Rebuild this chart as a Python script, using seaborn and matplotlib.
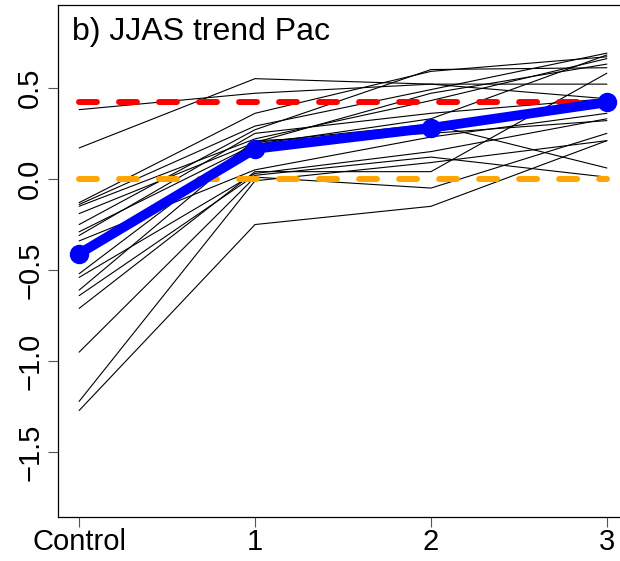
import numpy as np
import pandas as pd
import matplotlib
matplotlib.use('Agg')
import matplotlib.pyplot as plt
import seaborn as sns

# categorias del eje x
categories = ['Control', '1', '2', '3']

# miembros individuales
members = [
    [0.38, 0.47, 0.52, 0.44],
    [0.17, 0.55, 0.52, 0.52],
    [-0.13, 0.36, 0.59, 0.67],
    [-0.14, 0.29, 0.49, 0.69],
    [-0.15, 0.22, 0.43, 0.66],
    [-0.19, 0.20, 0.47, 0.63],
    [-0.25, 0.27, 0.60, 0.61],
    [-0.29, 0.19, 0.33, 0.68],
    [-0.31, 0.25, 0.36, 0.44],
    [-0.34, 0.05, 0.23, 0.36],
    [-0.52, 0.21, 0.25, 0.32],
    [-0.54, 0.03, 0.15, 0.33],
    [-0.61, 0.20, 0.30, 0.06],
    [-0.64, 0.02, 0.12, 0.01],
    [-0.71, 0.04, 0.04, 0.58],
    [-0.95, 0.01, -0.05, 0.25],
    [-1.22, -0.01, 0.09, 0.21],
    [-1.27, -0.25, -0.15, 0.21],
]

# media del ensemble (linea azul)
mean_values = [-0.41, 0.165, 0.28, 0.42]

# lineas de referencia
red_level = 0.42
orange_level = 0.0

# DataFrame en formato largo
rows = []
for m, vals in enumerate(members):
    for i, v in enumerate(vals):
        rows.append({'member': m, 'x': i, 'value': v})
df = pd.DataFrame(rows)
df_mean = pd.DataFrame({'x': range(len(categories)), 'value': mean_values})

sns.set_style('white')
plt.rcParams['font.family'] = ['Liberation Sans', 'DejaVu Sans']
plt.rcParams['text.color'] = 'black'
plt.rcParams['xtick.color'] = 'black'
plt.rcParams['ytick.color'] = 'black'

fig = plt.figure(figsize=(6.2, 5.61), dpi=100)
ax = fig.add_axes([58 / 620, 44 / 561, 570 / 620, 512 / 561])

sns.lineplot(data=df, x='x', y='value', units='member', estimator=None,
             color='black', linewidth=0.8, ax=ax, legend=False)

ax.plot([0, 3], [red_level, red_level], color='red', lw=4.3,
        linestyle=(0, (3.0, 3.7)), dash_capstyle='round', zorder=3)
ax.plot([0, 3], [orange_level, orange_level], color='orange', lw=4.3,
        linestyle=(0, (3.0, 3.7)), dash_capstyle='round', zorder=3)

sns.lineplot(data=df_mean, x='x', y='value', color='blue', linewidth=7,
             marker='o', markersize=14, markeredgewidth=0, ax=ax,
             legend=False, zorder=4)

ax.set_xlim(-0.12, 3.12)
ax.set_ylim(-1.854, 0.954)
ax.set_xticks(range(len(categories)))
ax.set_xticklabels(categories)
ax.set_yticks([0.5, 0.0, -0.5, -1.0, -1.5])
ax.set_yticklabels(['0.5', '0.0', '\u22120.5', '\u22121.0', '\u22121.5'],
                   rotation=90, va='center')
ax.set_xlabel('')
ax.set_ylabel('')

ax.tick_params(axis='both', which='both', direction='out', length=7,
               width=0.8, labelsize=21, left=True, bottom=True)
ax.tick_params(axis='both', which='both', color='#555555')
ax.tick_params(axis='x', pad=1)
ax.tick_params(axis='y', pad=3)

for s in ax.spines.values():
    s.set_visible(True)
    s.set_color('black')
    s.set_linewidth(0.9)

ax.text(0.025, 0.948, 'b) JJAS trend Pac', transform=ax.transAxes,
        fontsize=23, ha='left', va='center', color='black')

fig.savefig('out.png', dpi=100)
